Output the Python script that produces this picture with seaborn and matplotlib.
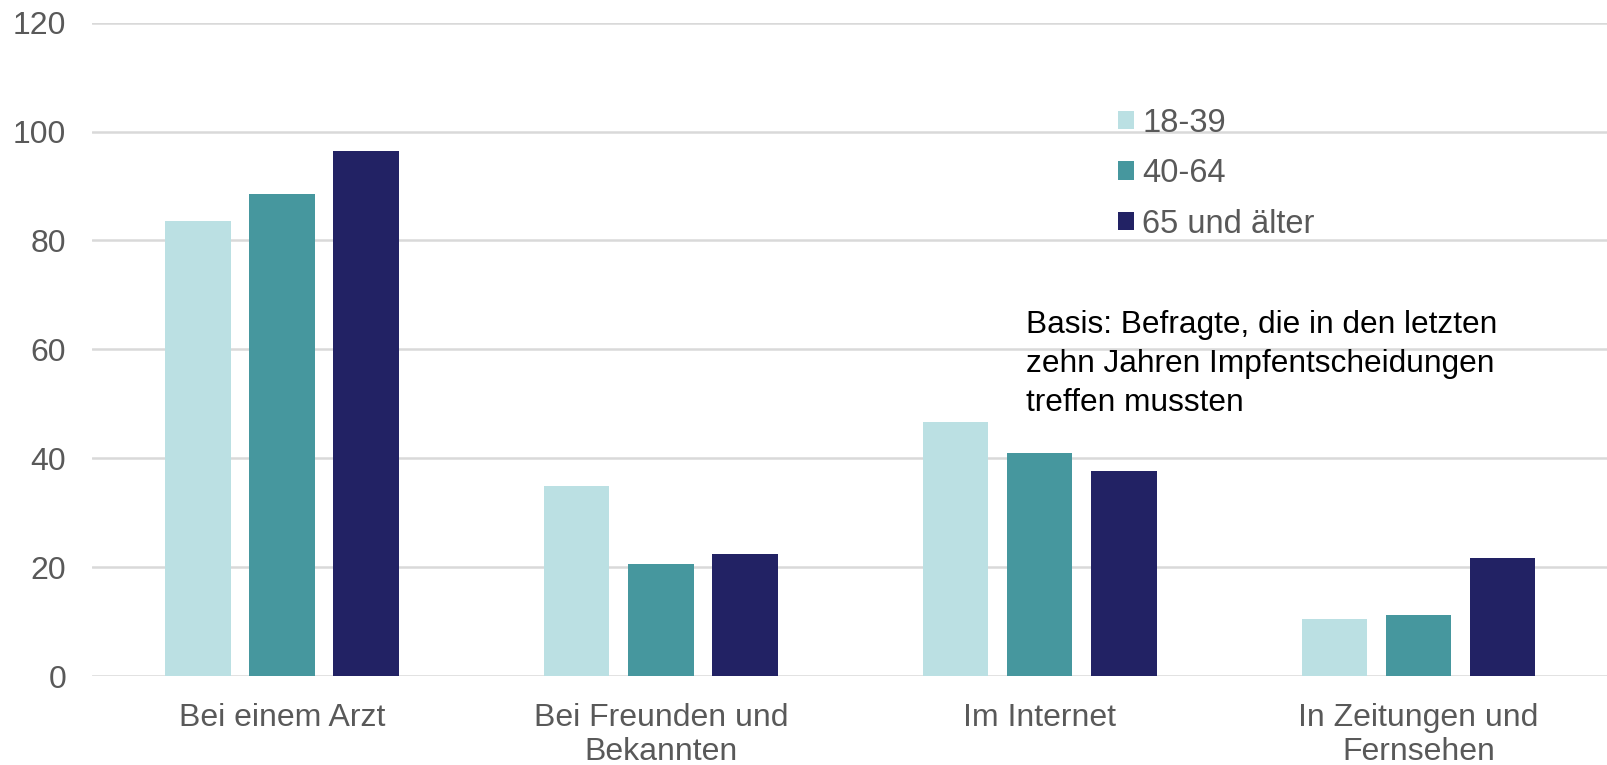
import matplotlib
matplotlib.use("Agg")
import matplotlib.pyplot as plt
import pandas as pd
import seaborn as sns

CATEGORIES = [
    "Bei einem Arzt",
    "Bei Freunden und\nBekannten",
    "Im Internet",
    "In Zeitungen und\nFernsehen",
]
AGE_GROUPS = ["18-39", "40-64", "65 und älter"]
VALUES_18_39 = [83.5, 35.0, 46.6, 10.6]
VALUES_40_64 = [88.5, 20.6, 41.0, 11.2]
VALUES_65_PLUS = [96.5, 22.5, 37.6, 21.7]
COLORS = ["#bbe0e3", "#46979e", "#222264"]
NOTE = "Basis: Befragte, die in den letzten\nzehn Jahren Impfentscheidungen\ntreffen mussten"


def main() -> None:
    sns.set_theme(style="white")
    plt.rcParams["font.family"] = ["Liberation Sans", "DejaVu Sans"]

    rows = []
    for group, vals in zip(AGE_GROUPS, (VALUES_18_39, VALUES_40_64, VALUES_65_PLUS)):
        for cat, v in zip(CATEGORIES, vals):
            rows.append({"source": cat, "age": group, "share": v})
    df = pd.DataFrame(rows)

    fig = plt.figure(figsize=(16.08, 7.65), dpi=100)
    ax = fig.add_axes([0.0575, 0.116, 0.9425, 0.8545])

    sns.barplot(data=df, x="source", y="share", hue="age", order=CATEGORIES,
                hue_order=AGE_GROUPS, palette=COLORS, saturation=1,
                width=0.666, gap=0.22, errorbar=None, linewidth=0, ax=ax,
                zorder=3)

    ax.set_xlim(-0.5, len(CATEGORIES) - 0.5)
    ax.set_ylim(0, 120)
    ax.set_yticks(range(0, 121, 20))
    ax.yaxis.grid(True, color="#d9d9d9", lw=1.8, zorder=0)
    ax.set_axisbelow(True)
    for s in ax.spines.values():
        s.set_visible(False)
    ax.set_xlabel("")
    ax.set_ylabel("")
    ax.tick_params(axis="both", length=0, labelsize=23, labelcolor="#595959")
    ax.tick_params(axis="x", pad=19)
    ax.tick_params(axis="y", pad=19)

    handles, labels = ax.get_legend_handles_labels()
    ax.legend(handles, labels, loc="center left", bbox_to_anchor=(0.695, 0.773),
              bbox_transform=fig.transFigure, frameon=False, fontsize=23.5,
              labelcolor="#595959", handlelength=0.5, handleheight=0.5,
              handletextpad=0.25, labelspacing=0.6, borderpad=0, borderaxespad=0)

    ax.text(1.964, 67.3, NOTE, fontsize=22.8, color="black", ha="left", va="top",
            linespacing=1.4)

    fig.savefig("out.png", dpi=100)
    plt.close(fig)


if __name__ == "__main__":
    main()
